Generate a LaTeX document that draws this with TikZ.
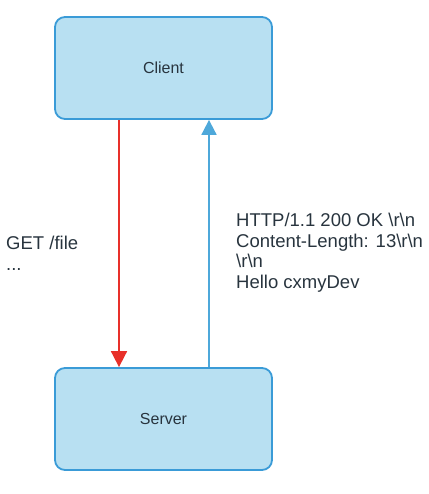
\documentclass[tikz,border=0pt]{standalone}
\usepackage{fontspec}
\setmainfont{Liberation Sans}
\usetikzlibrary{arrows.meta}
\definecolor{boxfill}{RGB}{184,224,242}
\definecolor{boxline}{RGB}{58,155,215}
\definecolor{reqred}{RGB}{232,48,42}
\definecolor{respblue}{RGB}{78,168,218}
\definecolor{txt}{RGB}{40,52,62}
\tikzset{
  hostbox/.style={draw=boxline, line width=1.8pt, fill=boxfill, rounded corners=10pt,
    minimum width=217pt, minimum height=102pt, inner sep=0pt,
    font=\fontsize{16}{19}\selectfont, text=txt},
  msg/.style={inner sep=0pt, align=left, anchor=north west, text=txt,
    font=\fontsize{18.5}{20.5}\selectfont},
  reqarrow/.style={draw=reqred, line width=1.8pt, -{Triangle[length=16pt,width=16pt]}},
  resparrow/.style={draw=respblue, line width=1.8pt, -{Triangle[length=15pt,width=15pt]}}
}
\begin{document}
\begin{tikzpicture}[x=1pt,y=1pt]
\useasboundingbox (0,0) rectangle (428,-494);
\node[hostbox] (client) at (163.5,-68) {Client};
\node[hostbox] (server) at (163.5,-419) {Server};
\coordinate (rx) at (119,0);
\coordinate (bx) at (209,0);
\draw[reqarrow] (rx |- client.south) -- (rx |- server.north);
\draw[resparrow] (bx |- server.north) -- (bx |- client.south);
\node[msg] (req) at (6,-236) {GET /file\\...};
\node[msg] (resp) at (236,-213) {HTTP/1.1 200 OK \textbackslash r\textbackslash n\\Content-Length: 13\textbackslash r\textbackslash n\\\textbackslash r\textbackslash n\\Hello cxmyDev};
\end{tikzpicture}
\end{document}
